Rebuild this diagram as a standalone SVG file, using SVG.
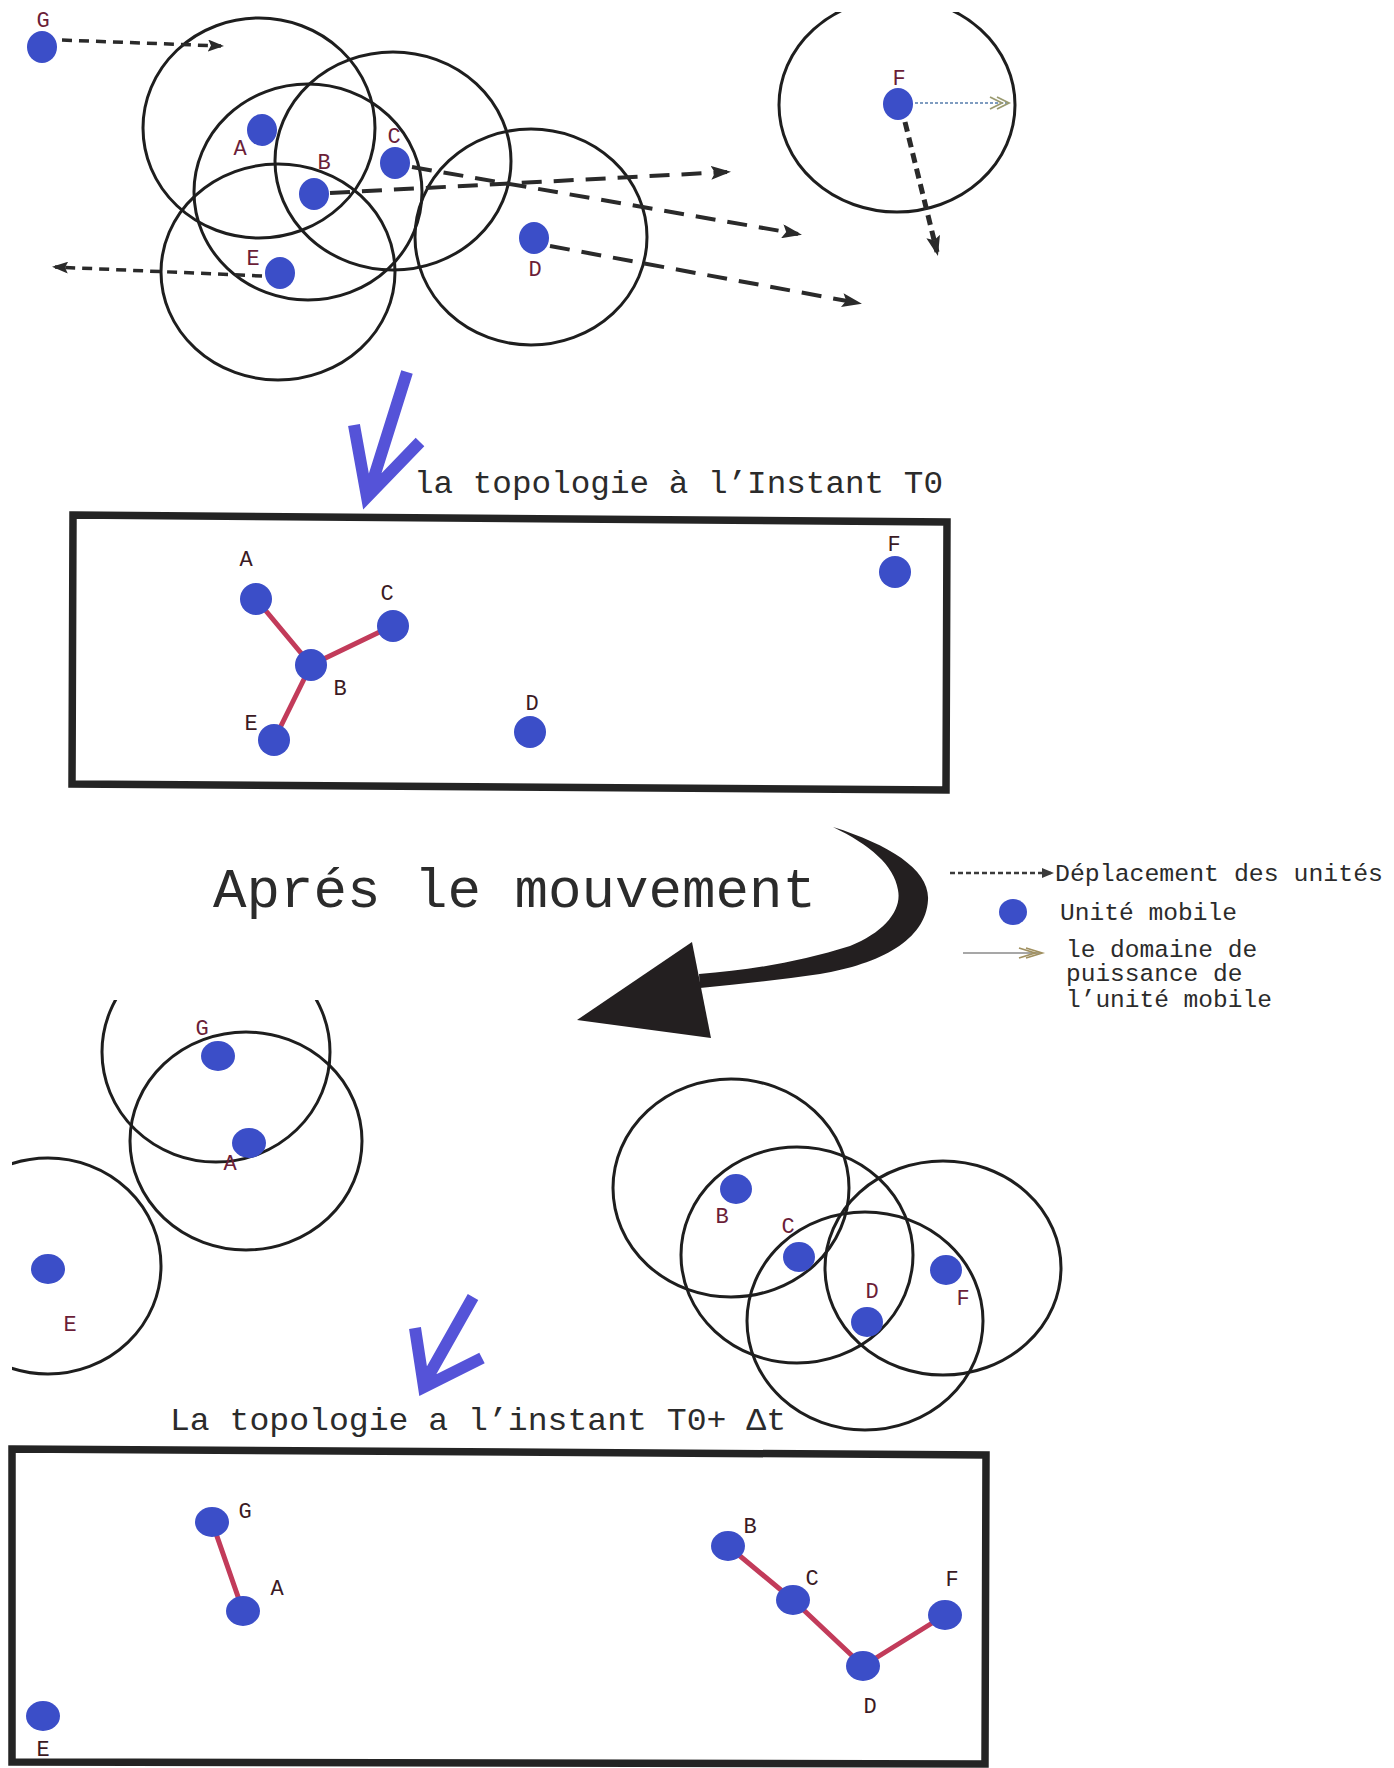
<svg xmlns="http://www.w3.org/2000/svg" width="1394" height="1768" viewBox="0 0 1394 1768">
  <style>
    .range { fill: none; stroke: #1e1e1e; stroke-width: 3; }
    .unit { fill: #3b4ec8; }
    .lbl { font-family: "Liberation Mono", "Courier New", monospace; font-size: 22px; fill: #6b1e38; text-anchor: middle; }
    .blbl { font-family: "Liberation Mono", "Courier New", monospace; font-size: 22px; fill: #3b1a24; text-anchor: middle; }
    .txt { font-family: "Liberation Mono", "Courier New", monospace; fill: #2b2b2b; }
    .link { stroke: #c23b5a; stroke-width: 5; stroke-linecap: round; }
    .frame { fill: none; stroke: #242424; stroke-width: 7.5; stroke-linejoin: miter; }
    .move-long { fill: none; stroke: #2a2a2a; stroke-width: 4; stroke-dasharray: 20 12; marker-end: url(#headBig); }
    .move-short { fill: none; stroke: #2a2a2a; stroke-width: 3.5; stroke-dasharray: 10 7; marker-end: url(#headSmall); }
    .move-f { fill: none; stroke: #2a2a2a; stroke-width: 5; stroke-dasharray: 10 6; marker-end: url(#headBig); }
    .bluearrow { fill: none; stroke: #5553d8; stroke-width: 12; stroke-linejoin: miter; stroke-linecap: butt; }
  </style>
  <defs>
    <marker id="headBig" viewBox="0 0 20 14" refX="16" refY="7" markerWidth="20" markerHeight="14" markerUnits="userSpaceOnUse" orient="auto">
      <path d="M0,0 L20,7 L0,14 L4,7 Z" fill="#2a2a2a"/>
    </marker>
    <marker id="headSmall" viewBox="0 0 16 12" refX="13" refY="6" markerWidth="16" markerHeight="12" markerUnits="userSpaceOnUse" orient="auto">
      <path d="M0,0 L16,6 L0,12 L3,6 Z" fill="#2a2a2a"/>
    </marker>
    <marker id="headLegend" viewBox="0 0 12 10" refX="10" refY="5" markerWidth="12" markerHeight="10" markerUnits="userSpaceOnUse" orient="auto">
      <path d="M0,0 L12,5 L0,10 Z" fill="#3a3a3a"/>
    </marker>
    <clipPath id="clipTopF"><rect x="700" y="12" width="400" height="300"/></clipPath>
    <clipPath id="clipTopG"><rect x="0" y="1000" width="500" height="300"/></clipPath>
    <clipPath id="clipLeftE"><rect x="12" y="1100" width="300" height="320"/></clipPath>
  </defs>

  <rect width="1394" height="1768" fill="#ffffff"/>

  <!-- ===== Initial configuration: coverage ranges ===== -->
  <g id="ranges-t0">
    <ellipse class="range" cx="259" cy="128" rx="116" ry="110"/>
    <ellipse class="range" cx="393" cy="161" rx="118" ry="109"/>
    <ellipse class="range" cx="308" cy="192" rx="114" ry="108"/>
    <ellipse class="range" cx="278" cy="272" rx="117" ry="108"/>
    <ellipse class="range" cx="531" cy="237" rx="116" ry="108"/>
    <ellipse class="range" cx="897" cy="105" rx="118" ry="107" clip-path="url(#clipTopF)"/>
  </g>

  <!-- movement vectors -->
  <g id="movements">
    <path class="move-short" d="M62,40 L221,46"/>
    <path class="move-short" d="M262,276 L55,267"/>
    <path class="move-long" d="M330,193 L727,172"/>
    <path class="move-long" d="M412,167 L798,234"/>
    <path class="move-long" d="M550,246 L858,303"/>
    <path class="move-f" d="M905,122 L937,252"/>
    <!-- range radius of F -->
    <path d="M915,103 L1008,103" stroke="#7f9cc0" stroke-width="2" stroke-dasharray="3 2" fill="none"/>
    <path d="M997,97 L1009,103 L997,109 M990,97 L1002,103 L990,109" stroke="#9a9a70" stroke-width="1.8" fill="none"/>
  </g>

  <g id="nodes-t0">
    <g id="t0-G"><ellipse class="unit" cx="42" cy="47" rx="15" ry="16"/><text class="lbl" x="43" y="27">G</text></g>
    <g id="t0-A"><ellipse class="unit" cx="262" cy="130" rx="15" ry="16"/><text class="lbl" x="240" y="155">A</text></g>
    <g id="t0-B"><ellipse class="unit" cx="314" cy="194" rx="15" ry="16"/><text class="lbl" x="324" y="169">B</text></g>
    <g id="t0-C"><ellipse class="unit" cx="395" cy="163" rx="15" ry="16"/><text class="lbl" x="394" y="143">C</text></g>
    <g id="t0-D"><ellipse class="unit" cx="534" cy="238" rx="15" ry="16"/><text class="lbl" x="535" y="276">D</text></g>
    <g id="t0-E"><ellipse class="unit" cx="280" cy="273" rx="15" ry="16"/><text class="lbl" x="253" y="265">E</text></g>
    <g id="t0-F"><ellipse class="unit" cx="898" cy="104" rx="15" ry="16"/><text class="lbl" x="899" y="85">F</text></g>
  </g>

  <!-- arrow to the T0 topology -->
  <path class="bluearrow" d="M407,372 L369,493 M354,425 L367,497 L420,442"/>
  <text class="txt" x="414" y="493" font-size="31" textLength="529" lengthAdjust="spacingAndGlyphs">la topologie à l’Instant T0</text>

  <!-- ===== Topology at T0 ===== -->
  <g id="topology-t0">
    <path class="frame" d="M73,515 L947,522 L946,790 L72,784 Z"/>
    <g id="links-t0">
      <line class="link" x1="256" y1="599" x2="311" y2="665"/>
      <line class="link" x1="392" y1="626" x2="311" y2="665"/>
      <line class="link" x1="311" y1="665" x2="274" y2="740"/>
    </g>
    <g id="g0-A"><ellipse class="unit" cx="256" cy="599" rx="16" ry="16"/><text class="blbl" x="246" y="566">A</text></g>
    <g id="g0-C"><ellipse class="unit" cx="393" cy="626" rx="16" ry="16"/><text class="blbl" x="387" y="600">C</text></g>
    <g id="g0-B"><ellipse class="unit" cx="311" cy="665" rx="16" ry="16"/><text class="blbl" x="340" y="695">B</text></g>
    <g id="g0-E"><ellipse class="unit" cx="274" cy="740" rx="16" ry="16"/><text class="blbl" x="251" y="730">E</text></g>
    <g id="g0-D"><ellipse class="unit" cx="530" cy="732" rx="16" ry="16"/><text class="blbl" x="532" y="710">D</text></g>
    <g id="g0-F"><ellipse class="unit" cx="895" cy="572" rx="16" ry="16"/><text class="blbl" x="894" y="551">F</text></g>
  </g>

  <!-- ===== Transition ===== -->
  <text class="txt" x="213" y="907" font-size="56" textLength="603" lengthAdjust="spacingAndGlyphs">Aprés le mouvement</text>
  <g id="turn-arrow" fill="#231f20">
    <path d="M833,827 C890,845 930,870 928,900 C926,940 880,964 820,974 C780,980 740,984 700,988 L699,974 C750,970 800,962 850,946 C885,932 902,910 898,890 C894,865 870,845 833,827 Z"/>
    <path d="M577,1020 L692,942 L711,1038 Z"/>
  </g>

  <!-- legend -->
  <g id="legend">
    <path d="M950,873 L1052,873" stroke="#3a3a3a" stroke-width="2.5" stroke-dasharray="5 3" fill="none" marker-end="url(#headLegend)"/>
    <text class="txt" x="1055" y="881" font-size="24.5" textLength="328" lengthAdjust="spacingAndGlyphs">Déplacement des unités</text>
    <ellipse class="unit" cx="1013" cy="912" rx="14" ry="13"/>
    <text class="txt" x="1060" y="920" font-size="24.5" textLength="177" lengthAdjust="spacingAndGlyphs">Unité mobile</text>
    <path d="M963,953 L1040,953" stroke="#8a8a8a" stroke-width="1.5" fill="none"/>
    <path d="M1026,948 L1042,953 L1026,958 M1019,948 L1035,953 L1019,958" stroke="#a09060" stroke-width="1.8" fill="none"/>
    <text class="txt" x="1066" y="957" font-size="24.5">le domaine de</text>
    <text class="txt" x="1066" y="981" font-size="24.5">puissance de</text>
    <text class="txt" x="1066" y="1007" font-size="24.5">l’unité mobile</text>
  </g>

  <!-- ===== Configuration after movement: coverage ranges ===== -->
  <g id="ranges-t1">
    <ellipse class="range" cx="216" cy="1052" rx="114" ry="110" clip-path="url(#clipTopG)"/>
    <ellipse class="range" cx="246" cy="1141" rx="116" ry="109"/>
    <ellipse class="range" cx="48" cy="1266" rx="113" ry="108" clip-path="url(#clipLeftE)"/>
    <ellipse class="range" cx="731" cy="1188" rx="118" ry="109"/>
    <ellipse class="range" cx="797" cy="1255" rx="116" ry="108"/>
    <ellipse class="range" cx="943" cy="1268" rx="118" ry="107"/>
    <ellipse class="range" cx="865" cy="1321" rx="118" ry="109"/>
  </g>

  <g id="nodes-t1">
    <g id="t1-G"><ellipse class="unit" cx="218" cy="1056" rx="17" ry="15"/><text class="lbl" x="202" y="1035">G</text></g>
    <g id="t1-A"><ellipse class="unit" cx="249" cy="1143" rx="17" ry="15"/><text class="lbl" x="230" y="1170">A</text></g>
    <g id="t1-E"><ellipse class="unit" cx="48" cy="1269" rx="17" ry="15"/><text class="lbl" x="70" y="1331">E</text></g>
    <g id="t1-B"><ellipse class="unit" cx="736" cy="1189" rx="16" ry="15"/><text class="lbl" x="722" y="1223">B</text></g>
    <g id="t1-C"><ellipse class="unit" cx="799" cy="1257" rx="16" ry="15"/><text class="lbl" x="788" y="1233">C</text></g>
    <g id="t1-D"><ellipse class="unit" cx="867" cy="1322" rx="16" ry="15"/><text class="lbl" x="872" y="1298">D</text></g>
    <g id="t1-F"><ellipse class="unit" cx="946" cy="1270" rx="16" ry="15"/><text class="lbl" x="963" y="1305">F</text></g>
  </g>

  <!-- arrow to the T0+Δt topology -->
  <path class="bluearrow" d="M473,1297 L425,1382 M415,1328 L424,1387 L482,1358"/>
  <text class="txt" x="170" y="1430" font-size="32" textLength="616" lengthAdjust="spacingAndGlyphs">La topologie a l’instant T0+ Δt</text>

  <!-- ===== Topology at T0+Δt ===== -->
  <g id="topology-t1">
    <path class="frame" d="M12,1449 L986,1455 L985,1764 L12,1762 Z"/>
    <g id="links-t1">
      <line class="link" x1="212" y1="1522" x2="243" y2="1611"/>
      <line class="link" x1="728" y1="1546" x2="793" y2="1600"/>
      <line class="link" x1="793" y1="1600" x2="863" y2="1666"/>
      <line class="link" x1="863" y1="1666" x2="945" y2="1615"/>
    </g>
    <g id="g1-G"><ellipse class="unit" cx="212" cy="1522" rx="17" ry="15"/><text class="blbl" x="245" y="1518">G</text></g>
    <g id="g1-A"><ellipse class="unit" cx="243" cy="1611" rx="17" ry="15"/><text class="blbl" x="277" y="1595">A</text></g>
    <g id="g1-E"><ellipse class="unit" cx="43" cy="1716" rx="17" ry="15"/><text class="blbl" x="43" y="1756">E</text></g>
    <g id="g1-B"><ellipse class="unit" cx="728" cy="1546" rx="17" ry="15"/><text class="blbl" x="750" y="1533">B</text></g>
    <g id="g1-C"><ellipse class="unit" cx="793" cy="1600" rx="17" ry="15"/><text class="blbl" x="812" y="1585">C</text></g>
    <g id="g1-D"><ellipse class="unit" cx="863" cy="1666" rx="17" ry="15"/><text class="blbl" x="870" y="1713">D</text></g>
    <g id="g1-F"><ellipse class="unit" cx="945" cy="1615" rx="17" ry="15"/><text class="blbl" x="952" y="1586">F</text></g>
  </g>
</svg>
